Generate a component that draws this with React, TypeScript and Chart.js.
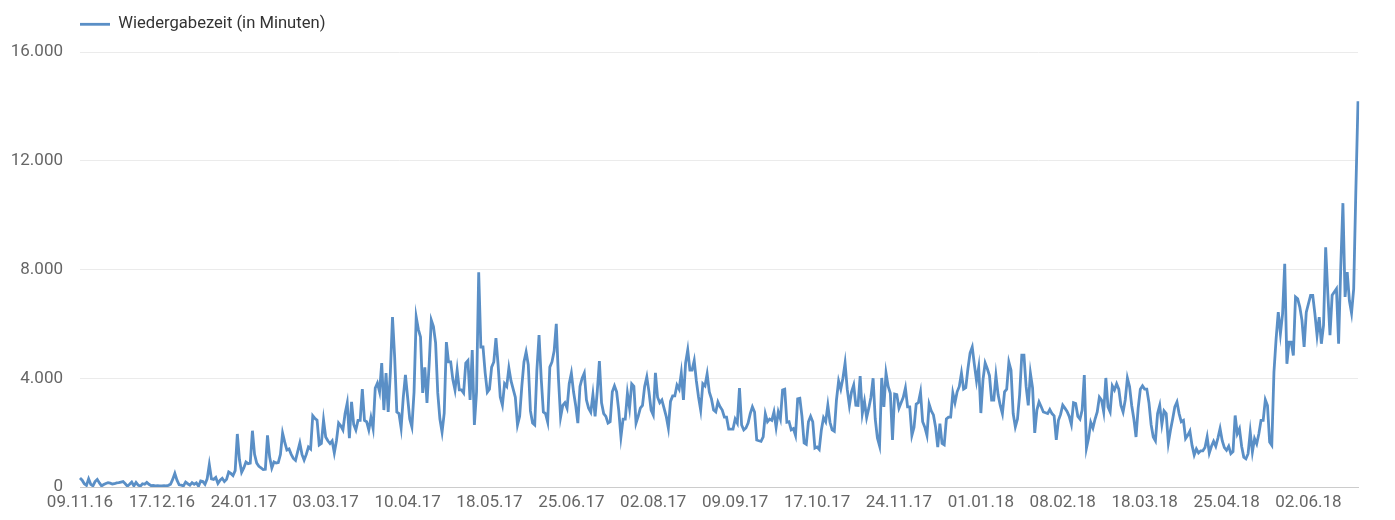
import React, { useEffect, useRef } from "react";
import { Chart, registerables } from "chart.js";

Chart.register(...registerables);

const SERIES_LABEL = "Wiedergabezeit (in Minuten)";
const START_DATE = [2016, 11, 9];
const TICK_LABELS = [
  "09.11.16", "17.12.16", "24.01.17", "03.03.17", "10.04.17", "18.05.17",
  "25.06.17", "02.08.17", "09.09.17", "17.10.17", "24.11.17", "01.01.18",
  "08.02.18", "18.03.18", "25.04.18", "02.06.18",
];
const Y_TICKS = [0, 4000, 8000, 12000, 16000];

const VALUES_2016 = [
  330, 250, 120, 60, 300, 100, 40, 200, 280, 150,
  40, 90, 130, 160, 140, 110, 120, 150, 160, 180,
  200, 120, 30, 100, 180, 40, 170, 70, 30, 120,
  100, 170, 100, 50, 60, 40, 50, 40, 40, 50,
  40, 60, 100, 280, 500, 250, 80, 70, 40, 180,
  120, 70, 160,
];
const VALUES_2017 = [
  100, 150, 30, 220, 200, 100, 300,
  830, 300, 280, 350, 130, 250, 320, 200, 280, 550,
  500, 420, 600, 1950, 1000, 540, 700, 920, 860, 880,
  2070, 1200, 880, 760, 700, 640, 650, 1900, 1100, 700,
  920, 880, 900, 1200, 1980, 1650, 1360, 1400, 1200, 1050,
  980, 1300, 1620, 1200, 990, 1200, 1470, 1400, 2620, 2520,
  2460, 1545, 1600, 2460, 1840, 1700, 1600, 1700, 1250, 1700,
  2350, 2250, 2100, 2700, 3090, 1800, 3130, 2300, 2100, 2450,
  2450, 3600, 2450, 2400, 2100, 2550, 2150, 3640, 3820, 3500,
  4560, 2830, 4190, 2760, 4200, 6250, 4780, 2760, 2700, 2170,
  3300, 4120, 3310, 2500, 2210, 3500, 6250, 5800, 5520, 3460,
  4400, 3090, 4500, 6140, 5900, 5300, 3460, 2500, 2020, 2720,
  5330, 4600, 4600, 3950, 3570, 4300, 3570, 3570, 3460, 4560,
  4650, 3200, 5040, 2280, 3500, 7900, 5150, 5150, 4200, 3490,
  3600, 4410, 4600, 5480, 4500, 3310, 3010, 3800, 3700, 4380,
  3900, 3600, 3300, 2280, 2600, 3700, 4600, 4970, 4500, 2800,
  2350, 2280, 4300, 5590, 4000, 2760, 2700, 2390, 4410, 4600,
  5000, 6000, 4000, 2570, 3000, 3100, 2900, 3800, 4190, 3500,
  3000, 2350, 3700, 4000, 4190, 3200, 2900, 2750, 3400, 2600,
  3500, 4630, 3100, 2700, 2600, 2350, 2400, 3500, 3720, 3500,
  2800, 1840, 2500, 2500, 3450, 2900, 3790, 3700, 2350, 2600,
  2900, 3000, 3700, 4050, 3500, 2830, 2650, 4200, 3300, 3100,
  3200, 2900, 2600, 2170, 3150, 3350, 3350, 3750, 3600, 4190,
  3200, 4560, 5040, 4300, 4300, 4650, 3900, 3310, 2830, 3800,
  3720, 4160, 3500, 3240, 2830, 2760, 3130, 2950, 2830, 2570,
  2570, 2130, 2130, 2130, 2500, 2350, 3640, 2280, 2100, 2170,
  2350, 2700, 2950, 2760, 1730, 1700, 1680, 1840, 2690, 2400,
  2500, 2450, 2760, 2200, 2760, 2500, 3570, 3600, 2380, 2400,
  2100, 2150, 1900, 3240, 3260, 2600, 1620, 1570, 2400, 2600,
  2400, 1430, 1470, 1380, 2100, 2550, 2400, 3010, 2380, 2100,
  2050, 3200, 3900, 3600, 4000, 4560, 3600, 3000, 3500, 3750,
  3010, 3000, 4080, 2700, 3150, 2550, 2900, 3300, 4000, 2500,
  1800, 1510, 4010, 2950, 4190, 3700, 3450, 1730, 3420, 3400,
  2900, 3100, 3300, 3640, 2950, 2950, 1900, 2200, 3050, 3100,
  3490, 2400, 2200, 1900, 3050, 2800, 2650, 2200, 1470, 2330,
  1600, 1550, 2500, 2570, 2570, 3460, 3100, 3500, 3700, 4190,
  3600, 3650, 4350, 4930,
];
const VALUES_2018 = [
  5150, 4500, 3900, 4400, 2720, 3950,
  4560, 4350, 4100, 3200, 3200, 4100, 3400, 3000, 2700, 3500,
  3600, 4600, 4300, 2700, 2210, 2500, 3400, 4850, 4850, 3700,
  3000, 4190, 3650, 1990, 2830, 3130, 2950, 2760, 2730, 2700,
  2850, 2700, 2620, 1730, 2450, 2670, 3010, 2900, 2780, 2600,
  2300, 3100, 3070, 2600, 2500, 2830, 4120, 1430, 1800, 2380,
  2170, 2500, 2760, 3310, 3200, 2760, 4010, 2950, 2760, 3720,
  3570, 3800, 3600, 3000, 2760, 3200, 4010, 3700, 3000, 2500,
  1840, 2900, 3600, 3720, 3600, 3600, 3100, 2300, 1840, 1700,
  2700, 3000, 2300, 2800, 2700, 1620, 2100, 2500, 2950, 3130,
  2700, 2400, 2450, 1780, 1900, 2060, 1530, 1180, 1400, 1250,
  1330, 1330, 1450, 1840, 1250, 1500, 1680, 1500, 1800, 2150,
  1700, 1450, 1350, 1500, 1225, 1300, 2630, 1960, 2140, 1500,
  1100, 1040, 1225, 2020, 1290, 1780, 1590, 1960, 2450, 2450,
  3210, 3000, 1650, 1530, 4230, 5450, 6430, 5640, 6370, 8210,
  4530, 5330, 5330, 4840, 6990, 6920, 6620, 6130, 5150, 6430,
  6740, 7050, 7050, 6370, 5580, 6250, 5270, 5940, 8820, 7110,
  5580, 7050, 7170, 7290, 5270, 8090, 10440, 6990, 7900, 6860,
  6400, 7290, 10900, 14190,
];
const VALUES = [...VALUES_2016, ...VALUES_2017, ...VALUES_2018];

const BLUE = "#5a8fc6";
const FONT = "Roboto";
const AXIS_FONT_SIZE = 17;
const LEGEND_FONT_SIZE = 16.6;

function pad2(n: number) {
  return n < 10 ? "0" + n : String(n);
}

function buildDates(count: number): string[] {
  const out: string[] = [];
  const d = new Date(START_DATE[0], START_DATE[1] - 1, START_DATE[2], 12);
  for (let i = 0; i < count; i++) {
    out.push(pad2(d.getDate()) + "." + pad2(d.getMonth() + 1) + "." + pad2(d.getFullYear() % 100));
    d.setDate(d.getDate() + 1);
  }
  return out;
}

function formatDe(v: number) {
  return String(Math.round(v)).replace(/\B(?=(\d{3})+(?!\d))/g, ".");
}

const legendPatch = {
  id: "legendPatch",
  beforeLayout(chart: any) {
    const lg = chart.legend;
    if (lg && !lg.__patched) {
      const fit = lg.fit;
      lg.fit = function () {
        fit.call(this);
        this.height = 52;
      };
      lg.__patched = true;
    }
  },
  afterLayout(chart: any) {
    const lg = chart.legend;
    if (lg) {
      lg.left += 64;
      lg.right += 64;
    }
  },
};

export default function App() {
  const ref = useRef<HTMLCanvasElement>(null);

  useEffect(() => {
    if (!ref.current) return;
    const labels = buildDates(VALUES.length);
    const tickSet = new Set(TICK_LABELS);
    const chart = new Chart(ref.current, {
      type: "line",
      data: {
        labels,
        datasets: [
          {
            label: SERIES_LABEL,
            data: VALUES,
            borderColor: BLUE,
            backgroundColor: BLUE,
            borderWidth: 2.8,
            pointRadius: 0,
            pointHoverRadius: 0,
            tension: 0,
            fill: false,
          },
        ],
      },
      options: {
        animation: false,
        responsive: false,
        maintainAspectRatio: false,
        layout: { padding: { left: 0, right: 37, top: 0, bottom: 0 } },
        plugins: {
          legend: {
            align: "start",
            labels: {
              usePointStyle: true,
              pointStyle: "line",
              pointStyleWidth: 30,
              padding: 16,
              color: "#333333",
              font: { family: FONT, size: LEGEND_FONT_SIZE },
            },
          },
          tooltip: { enabled: false },
        },
        scales: {
          x: {
            grid: { display: false, drawTicks: false },
            border: { display: true, color: "#cccccc", width: 1 },
            ticks: {
              autoSkip: false,
              maxRotation: 0,
              minRotation: 0,
              padding: 6,
              color: "#666666",
              font: { family: FONT, size: AXIS_FONT_SIZE },
              callback: (_v: any, i: number) => (tickSet.has(labels[i]) ? labels[i] : ""),
            },
            afterFit: (s: any) => {
              s.height = 33;
            },
          },
          y: {
            min: Y_TICKS[0],
            max: Y_TICKS[Y_TICKS.length - 1],
            afterBuildTicks: (s: any) => {
              s.ticks = Y_TICKS.map((v) => ({ value: v }));
            },
            ticks: {
              padding: 17,
              color: "#666666",
              font: { family: FONT, size: AXIS_FONT_SIZE },
              callback: (v: any) => formatDe(Number(v)),
            },
            grid: {
              drawTicks: false,
              color: (ctx: any) => (ctx.tick && ctx.tick.value === 0 ? "#cccccc" : "#ebebeb"),
            },
            border: { display: false },
            afterFit: (s: any) => {
              s.width = 80;
            },
          },
        },
      },
      plugins: [legendPatch],
    });
    return () => chart.destroy();
  }, []);

  return (
    <div style={{ position: "absolute", left: 0, top: 0, width: 1395, height: 520 }}>
      <canvas ref={ref} width={1395} height={520} style={{ display: "block" }} />
    </div>
  );
}
